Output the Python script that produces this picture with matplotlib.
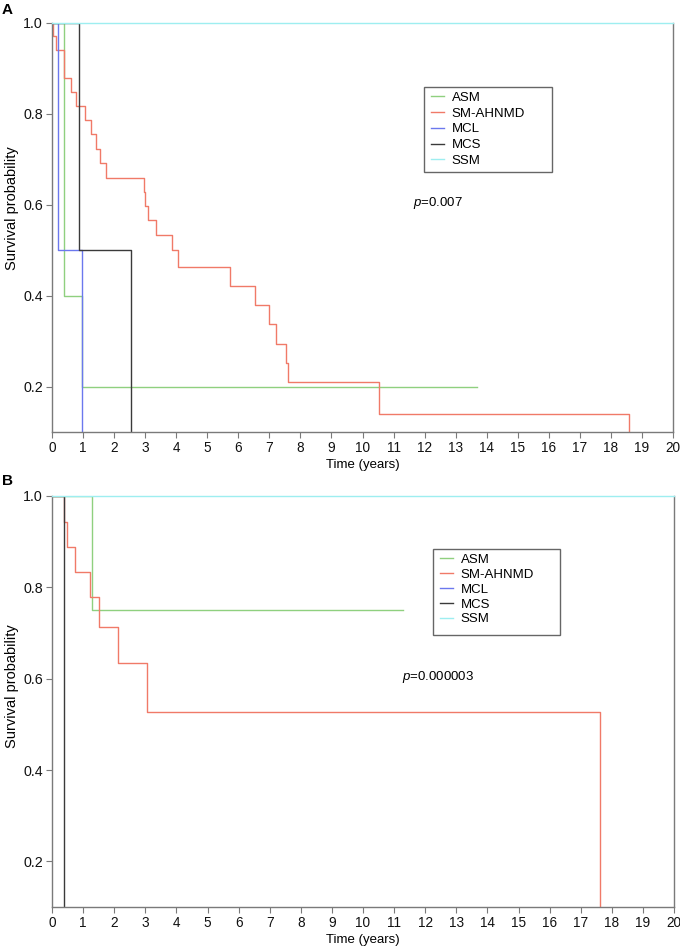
import matplotlib
matplotlib.use("Agg")
import matplotlib.pyplot as plt
from matplotlib.lines import Line2D
from matplotlib.patches import Rectangle

plt.rcParams['font.family'] = ['Liberation Sans', 'DejaVu Sans']
plt.rcParams['mathtext.fontset'] = 'custom'
plt.rcParams['mathtext.it'] = 'Liberation Sans:italic'
plt.rcParams['mathtext.rm'] = 'Liberation Sans'

groups = ["ASM", "SM-AHNMD", "MCL", "MCS", "SSM"]
colors = ["#8fd07f", "#f07a68", "#6b78ee", "#3a3a3a", "#9eeef0"]

# Panel A: step times (years) and survival probabilities
a_asm_t = [0, 0.39, 0.98, 13.68]
a_asm_s = [1.0, 0.4, 0.2, 0.2]
a_sm_t = [0, 0.02, 0.13, 0.39, 0.60, 0.76, 1.05, 1.25, 1.41, 1.55, 1.73, 2.97, 3.00,
          3.10, 3.35, 3.85, 4.05, 5.73, 6.55, 7.00, 7.23, 7.54, 7.59, 10.54, 18.57]
a_sm_s = [1.0, 0.971, 0.941, 0.880, 0.848, 0.818, 0.786, 0.755, 0.723, 0.692, 0.659, 0.629, 0.597,
          0.566, 0.534, 0.500, 0.463, 0.421, 0.379, 0.337, 0.294, 0.252, 0.209, 0.140, 0.0]
a_mcl_t = [0, 0.20, 0.98]
a_mcl_s = [1.0, 0.5, 0.0]
a_mcs_t = [0, 0.88, 2.54]
a_mcs_s = [1.0, 0.5, 0.0]
a_ssm_t = [0, 20]
a_ssm_s = [1.0, 1.0]

# Panel B
b_asm_t = [0, 1.28, 11.28]
b_asm_s = [1.0, 0.75, 0.75]
b_sm_t = [0, 0.40, 0.49, 0.75, 1.21, 1.52, 2.12, 3.05, 17.63]
b_sm_s = [1.0, 0.944, 0.889, 0.834, 0.778, 0.714, 0.634, 0.527, 0.0]
b_mcl_t = []
b_mcl_s = []
b_mcs_t = [0, 0.40]
b_mcs_s = [1.0, 0.0]
b_ssm_t = [0, 20]
b_ssm_s = [1.0, 1.0]

p_a = "0.007"
p_b = "0.000003"
xticks = list(range(0, 21))
yticks = [0.2, 0.4, 0.6, 0.8, 1.0]

W, H = 680, 950
fig = plt.figure(figsize=(W / 100, H / 100), dpi=100)

def px_axes(l, r, t, b):
    return fig.add_axes([l / W, 1 - b / H, (r - l) / W, (b - t) / H])

def px_rect(l, r, t, b):
    fig.add_artist(Rectangle((l / W, 1 - b / H), (r - l) / W, (b - t) / H,
                             transform=fig.transFigure, fill=False,
                             edgecolor='#666666', lw=1.0))

axA = px_axes(52, 673, 23, 432)
axB = px_axes(52, 674, 496, 907)

panels = [
    (axA, [(a_asm_t, a_asm_s), (a_sm_t, a_sm_s), (a_mcl_t, a_mcl_s), (a_mcs_t, a_mcs_s), (a_ssm_t, a_ssm_s)],
     p_a, (11.62, 0.604), (424, 552, 87, 172), 0.27),
    (axB, [(b_asm_t, b_asm_s), (b_sm_t, b_sm_s), (b_mcl_t, b_mcl_s), (b_mcs_t, b_mcs_s), (b_ssm_t, b_ssm_s)],
     p_b, (11.27, 0.603), (433, 560, 549, 635), 0.2),
]

spine_col = "#7a7a7a"
for ax, series, ptxt, ppos, box, lsp in panels:
    for (t, s), c, g in zip(series, colors, groups):
        if len(t):
            ax.step(t, s, where='post', color=c, lw=1.0, clip_on=(g != "SSM"),
                    zorder=3 if g == "SSM" else 2)
    ax.set_xlim(0, 20)
    ax.set_ylim(0.1, 1.0)
    ax.set_xticks(xticks)
    ax.set_yticks(yticks)
    ax.set_yticklabels([f"{v:.1f}" for v in yticks])
    ax.spines['top'].set_visible(False)
    for sp in ['left', 'bottom', 'right']:
        ax.spines[sp].set_color(spine_col)
        ax.spines[sp].set_linewidth(1.0)
    ax.tick_params(direction='out', length=4.5, width=0.8, color=spine_col,
                   labelcolor='#111111', pad=2)
    ax.tick_params(axis='x', labelsize=9.8)
    ax.tick_params(axis='y', labelsize=10.3)
    ax.set_xlabel("Time (years)", fontsize=9.5, labelpad=3)
    ax.text(ppos[0], ppos[1], r"$\it{p}$=" + ptxt, fontsize=9.5, va='center', ha='left')
    handles = [Line2D([], [], color=c, lw=1.0) for c in colors]
    l, r, t, b = box
    ax_bb = ax.get_position()
    ax_l, ax_b = ax_bb.x0 * W, (1 - ax_bb.y1) * H
    ax_w, ax_h = ax_bb.width * W, ax_bb.height * H
    anchor = ((l + 4 - ax_l) / ax_w, 1 - (t + 2 - ax_b) / ax_h)
    leg = ax.legend(handles, groups, loc='upper left', bbox_to_anchor=anchor, borderaxespad=0,
                    frameon=False, fontsize=9.5, handlelength=1.05,
                    handletextpad=0.55, labelspacing=lsp, borderpad=0.2)
    px_rect(l, r, t, b)

fig.text(12 / W, 1 - 208 / H, "Survival probability", rotation=90, fontsize=10.5, ha='center', va='center')
fig.text(12 / W, 1 - 686 / H, "Survival probability", rotation=90, fontsize=10.5, ha='center', va='center')
fig.text(2 / W, 1 - 10 / H, "A", fontsize=11, fontweight='bold', ha='left', va='center')
fig.text(2 / W, 1 - 481 / H, "B", fontsize=11, fontweight='bold', ha='left', va='center')

fig.savefig("out.png", dpi=100)
